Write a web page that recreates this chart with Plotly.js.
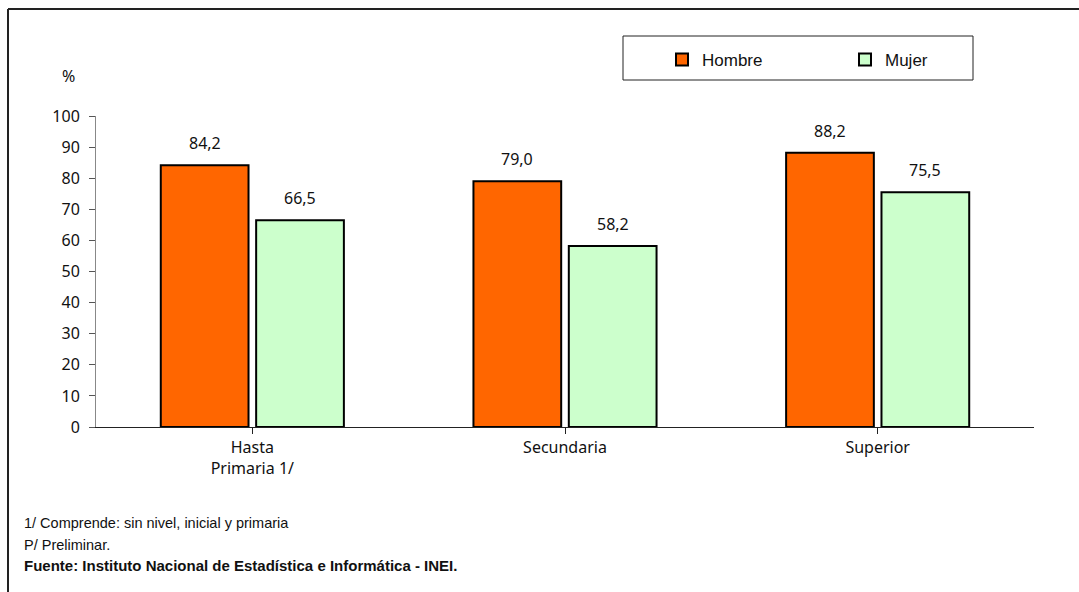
<!DOCTYPE html>
<html>
<head>
<meta charset="utf-8">
<script src="https://cdn.plot.ly/plotly-3.0.1.min.js"></script>
<style>html,body{margin:0;padding:0;background:#fff;}#chart{width:1079px;height:592px;}</style>
</head>
<body>
<div id="chart"></div>
<script>
const categories = ["Hasta<br>Primaria 1/", "Secundaria", "Superior"];
const hombre = [84.2, 79.0, 88.2];
const mujer = [66.5, 58.2, 75.5];
const seriesNames = ["Hombre", "Mujer"];
const yTicks = [0, 10, 20, 30, 40, 50, 60, 70, 80, 90, 100];
const notes = [
  "1/ Comprende: sin nivel, inicial y primaria",
  "P/ Preliminar.",
  "<b>Fuente: Instituto Nacional de Estadística e Informática - INEI.</b>"
];

const W = 1079, H = 592;
const mL = 96, mR = 45, mT = 116, mB = 165;
const pw = W - mL - mR, ph = H - mT - mB;
const px = x => (x - mL) / pw;
const py = y => (H - mB - y) / ph;

const bargap = 0.39;
const fnt = "Liberation Sans, Arial, sans-serif";
const numFont = "Noto Sans, DejaVu Sans, sans-serif";

const traces = [
  {type: "bar", name: seriesNames[0], x: [0,1,2], y: hombre,
   marker: {color: "#FF6600", line: {color: "#000", width: 2}}},
  {type: "bar", name: seriesNames[1], x: [0,1,2], y: mujer,
   marker: {color: "#CCFFCC", line: {color: "#000", width: 2}}}
];

const annotations = [];
const off = (1 - bargap) / 4;
[hombre, mujer].forEach((arr, s) => {
  arr.forEach((v, i) => {
    annotations.push({x: i + (s === 0 ? -off : off), y: v, xref: "x", yref: "y",
      text: v.toFixed(1).replace(".", ","), showarrow: false, yanchor: "bottom", yshift: 9,
      font: {family: numFont, size: 16, color: "#111"}});
  });
});
annotations.push({xref: "paper", yref: "paper", x: px(68), y: py(76), text: "%", showarrow: false,
  xanchor: "center", yanchor: "middle", font: {family: numFont, size: 16, color: "#111"}});
const noteY = [523, 545, 565];
const noteSize = [14.5, 14.5, 15];
notes.forEach((t, i) => {
  annotations.push({xref: "paper", yref: "paper", x: px(22), y: py(noteY[i]), text: t, showarrow: false,
    xanchor: "left", yanchor: "middle", font: {family: fnt, size: noteSize[i], color: "#111"}});
});

const shapes = [
  {type: "line", xref: "paper", yref: "paper", x0: px(8), x1: px(1085), y0: py(9), y1: py(9), line: {color: "#222", width: 2}},
  {type: "line", xref: "paper", yref: "paper", x0: px(8), x1: px(8), y0: py(9), y1: py(600), line: {color: "#222", width: 2}},
  {type: "rect", xref: "paper", yref: "paper", x0: px(623), x1: px(973), y0: py(36), y1: py(80), line: {color: "#222", width: 1}, fillcolor: "rgba(0,0,0,0)"}
];

const layout = {
  width: W, height: H,
  margin: {l: mL, r: mR, t: mT, b: mB, autoexpand: false},
  paper_bgcolor: "#fff", plot_bgcolor: "#fff",
  barmode: "group", bargap: bargap, bargroupgap: 0.08,
  showlegend: true,
  legend: {orientation: "h", x: px(662), y: py(42), xanchor: "left", yanchor: "top",
    bgcolor: "rgba(0,0,0,0)", borderwidth: 0, entrywidth: 138, entrywidthmode: "pixels",
    font: {family: fnt, size: 17, color: "#111"}, traceorder: "normal"},
  xaxis: {range: [-0.5, 2.5], tickvals: [0,1,2], ticktext: categories, tickmode: "array",
    showgrid: false, zeroline: false, showline: true, linecolor: "#222", linewidth: 1,
    ticks: "outside", tickson: "boundaries", ticklen: 6, tickcolor: "#222",
    tickfont: {family: numFont, size: 16, color: "#111"}, fixedrange: true},
  yaxis: {range: [0, 100], tickvals: yTicks, tickmode: "array", showgrid: false, zeroline: false,
    showline: true, linecolor: "#888", linewidth: 1, ticks: "outside", ticklen: 6, tickcolor: "#555",
    ticklabelstandoff: 6,
    tickfont: {family: numFont, size: 16, color: "#111"}},
  annotations: annotations,
  shapes: shapes
};

Plotly.newPlot("chart", traces, layout, {displayModeBar: false, staticPlot: true});
</script>
</body>
</html>
